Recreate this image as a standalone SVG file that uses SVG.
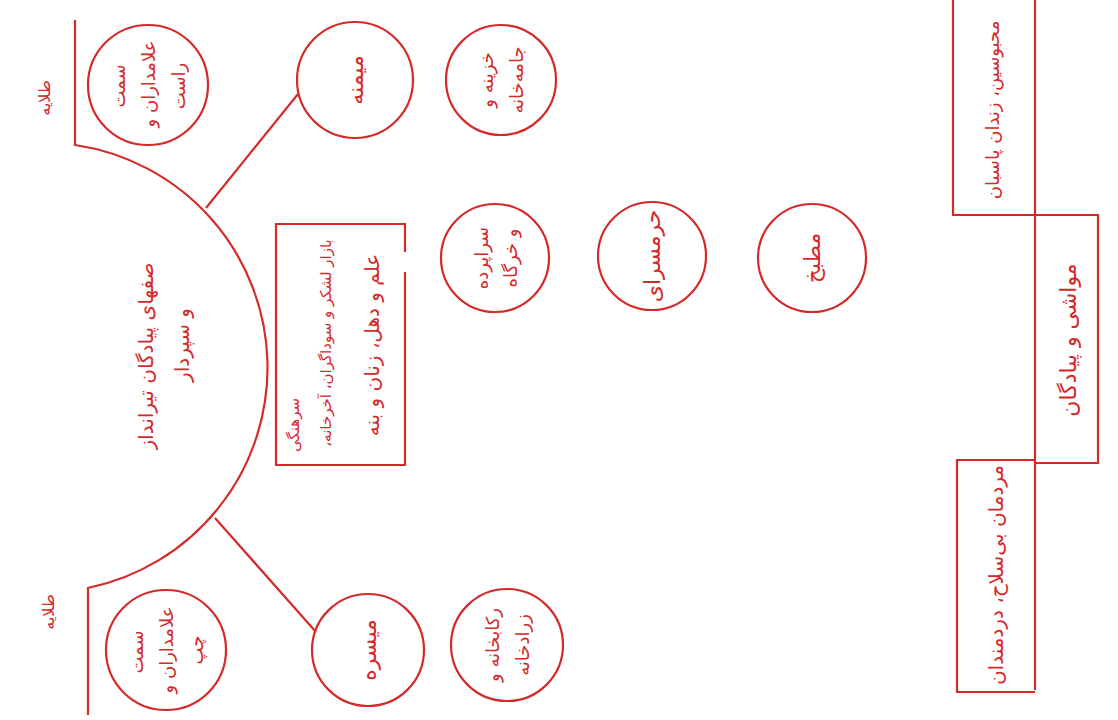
<svg xmlns="http://www.w3.org/2000/svg" width="1118" height="720" viewBox="0 0 1118 720">
<style>
.ln{fill:none;stroke:#d42a2a;stroke-width:2.2}
.t{fill:#d42a2a;font-family:"DejaVu Sans",sans-serif;text-anchor:middle;dominant-baseline:central;direction:rtl;unicode-bidi:embed}
.s15{font-size:15px}.s16{font-size:16px}.s18{font-size:18px}.s20{font-size:20px}.s22{font-size:22px}.s24{font-size:24px}
</style>
<rect width="1118" height="720" fill="#ffffff"/>
<g id="connectors">
<path class="ln" d="M75,20 V145 A225,225 0 0 1 88,588 V715"/>
<line class="ln" x1="206" y1="208" x2="298" y2="94"/>
<line class="ln" x1="215" y1="518" x2="316" y2="632"/>
</g>
<g id="talaye-top"><text class="t s16" transform="translate(44,98) rotate(-90)">طلایه</text></g>
<g id="talaye-bottom"><text class="t s16" transform="translate(48,612) rotate(-90)">طلایه</text></g>
<g id="front-line"><text class="t s20" transform="translate(146,356) rotate(-90)">صفهای پیادگان تیرانداز</text>
<text class="t s20" transform="translate(182,345) rotate(-90)">و سپردار</text></g>
<g id="alam-right"><circle class="ln" cx="148" cy="85" r="60"/>
<text class="t s18" transform="translate(118,86) rotate(-90)">سمت</text>
<text class="t s18" transform="translate(148,84) rotate(-90)">علامداران و</text>
<text class="t s18" transform="translate(178,86) rotate(-90)">راست</text></g>
<g id="alam-left"><circle class="ln" cx="166" cy="650" r="60"/>
<text class="t s18" transform="translate(136,652) rotate(-90)">سمت</text>
<text class="t s18" transform="translate(166,650) rotate(-90)">علامداران و</text>
<text class="t s18" transform="translate(196,650) rotate(-90)">چپ</text></g>
<g id="meymane"><circle class="ln" cx="355" cy="80" r="58"/>
<text class="t s22" transform="translate(355,80) rotate(-90)">میمنه</text></g>
<g id="meysare"><circle class="ln" cx="368" cy="650" r="56"/>
<text class="t s22" transform="translate(368,650) rotate(-90)">میسره</text></g>
<g id="khazine"><circle class="ln" cx="501" cy="80" r="55"/>
<text class="t s18" transform="translate(486,80) rotate(-90)">خزینه و</text>
<text class="t s18" transform="translate(516,80) rotate(-90)">جامه‌خانه</text></g>
<g id="rekab"><circle class="ln" cx="507" cy="645" r="56"/>
<text class="t s18" transform="translate(492,645) rotate(-90)">رکابخانه و</text>
<text class="t s18" transform="translate(522,645) rotate(-90)">زرادخانه</text></g>
<g id="saraparde"><circle class="ln" cx="495" cy="258" r="54"/>
<text class="t s18" transform="translate(481,258) rotate(-90)">سراپرده</text>
<text class="t s18" transform="translate(510,258) rotate(-90)">و خرگاه</text></g>
<g id="haramsara"><circle class="ln" cx="652" cy="256" r="54"/>
<text class="t s22" transform="translate(652,256) rotate(-90)">حرمسرای</text></g>
<g id="matbakh"><circle class="ln" cx="812" cy="258" r="54"/>
<text class="t s22" transform="translate(812,258) rotate(-90)">مطبخ</text></g>
<g id="bazar"><path class="ln" d="M405,252 V224 H276 V465 H405 V272"/>
<text class="t s15" transform="translate(294,425) rotate(-90)">سرهنگی</text>
<text class="t s15" transform="translate(326,343) rotate(-90)">بازار لشکر و سوداگران، آخرخانه،</text>
<text class="t s20" transform="translate(372,345) rotate(-90)">علم و دهل، زنان و بنه</text></g>
<g id="zendan"><path class="ln" d="M953,-5 V215 H1035"/>
<text class="t s18" transform="translate(992,110) rotate(-90)">محبوسین، زندان پاسبان</text></g>
<g id="mavashi"><path class="ln" d="M1035,0 V690 M1035,215 H1098 V463 H1035"/>
<text class="t s22" transform="translate(1068,340) rotate(-90)">مواشی و پیادگان</text></g>
<g id="mardoman"><path class="ln" d="M1035,460 H957 V692 H1035"/>
<text class="t s20" transform="translate(996,575) rotate(-90)">مردمان بی‌سلاح، دردمندان</text></g>
</svg>
